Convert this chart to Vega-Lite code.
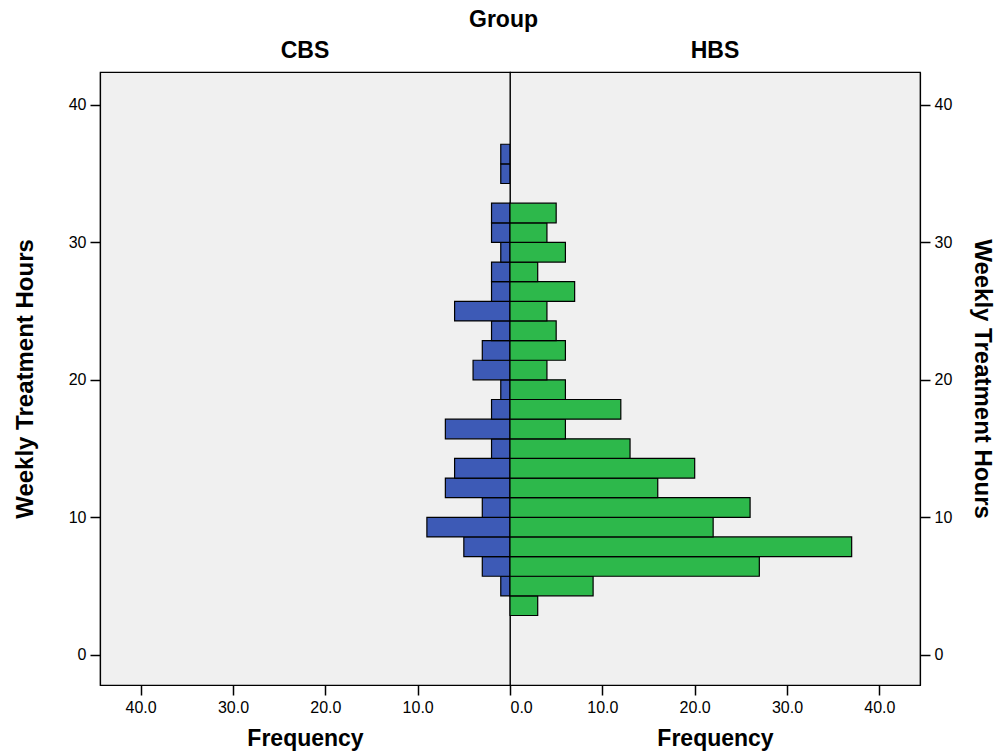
{
  "$schema": "https://vega.github.io/schema/vega-lite/v6.json",
  "padding": {"left": 12, "top": 9, "right": 5, "bottom": 5},
  "background": "white",
  "bounds": "flush",
  "title": {"text": "Group", "anchor": "middle", "fontSize": 23, "font": "Liberation Sans", "fontWeight": "bold", "color": "black", "offset": 7},
  "datasets": {
    "cbs": [
      {"lo": 4.286, "hi": 5.714, "count": 1},
      {"lo": 5.714, "hi": 7.143, "count": 3},
      {"lo": 7.143, "hi": 8.571, "count": 5},
      {"lo": 8.571, "hi": 10.0, "count": 9},
      {"lo": 10.0, "hi": 11.429, "count": 3},
      {"lo": 11.429, "hi": 12.857, "count": 7},
      {"lo": 12.857, "hi": 14.286, "count": 6},
      {"lo": 14.286, "hi": 15.714, "count": 2},
      {"lo": 15.714, "hi": 17.143, "count": 7},
      {"lo": 17.143, "hi": 18.571, "count": 2},
      {"lo": 18.571, "hi": 20.0, "count": 1},
      {"lo": 20.0, "hi": 21.429, "count": 4},
      {"lo": 21.429, "hi": 22.857, "count": 3},
      {"lo": 22.857, "hi": 24.286, "count": 2},
      {"lo": 24.286, "hi": 25.714, "count": 6},
      {"lo": 25.714, "hi": 27.143, "count": 2},
      {"lo": 27.143, "hi": 28.571, "count": 2},
      {"lo": 28.571, "hi": 30.0, "count": 1},
      {"lo": 30.0, "hi": 31.429, "count": 2},
      {"lo": 31.429, "hi": 32.857, "count": 2},
      {"lo": 34.286, "hi": 35.714, "count": 1},
      {"lo": 35.714, "hi": 37.143, "count": 1}
    ],
    "hbs": [
      {"lo": 2.857, "hi": 4.286, "count": 3},
      {"lo": 4.286, "hi": 5.714, "count": 9},
      {"lo": 5.714, "hi": 7.143, "count": 27},
      {"lo": 7.143, "hi": 8.571, "count": 37},
      {"lo": 8.571, "hi": 10.0, "count": 22},
      {"lo": 10.0, "hi": 11.429, "count": 26},
      {"lo": 11.429, "hi": 12.857, "count": 16},
      {"lo": 12.857, "hi": 14.286, "count": 20},
      {"lo": 14.286, "hi": 15.714, "count": 13},
      {"lo": 15.714, "hi": 17.143, "count": 6},
      {"lo": 17.143, "hi": 18.571, "count": 12},
      {"lo": 18.571, "hi": 20.0, "count": 6},
      {"lo": 20.0, "hi": 21.429, "count": 4},
      {"lo": 21.429, "hi": 22.857, "count": 6},
      {"lo": 22.857, "hi": 24.286, "count": 5},
      {"lo": 24.286, "hi": 25.714, "count": 4},
      {"lo": 25.714, "hi": 27.143, "count": 7},
      {"lo": 27.143, "hi": 28.571, "count": 3},
      {"lo": 28.571, "hi": 30.0, "count": 6},
      {"lo": 30.0, "hi": 31.429, "count": 4},
      {"lo": 31.429, "hi": 32.857, "count": 5}
    ]
  },
  "spacing": 0,
  "resolve": {"scale": {"y": "independent", "x": "independent"}, "axis": {"y": "independent"}},
  "hconcat": [
    {
      "width": 410,
      "height": 613,
      "data": {"name": "cbs"},
      "title": {"text": "CBS", "anchor": "middle", "fontSize": 23, "font": "Liberation Sans", "fontWeight": "bold", "color": "black", "offset": 9},
      "mark": {"type": "rect", "color": "#3d5ab6", "stroke": "black", "strokeWidth": 1.2, "opacity": 1},
      "encoding": {
        "x": {"field": "count", "type": "quantitative",
              "scale": {"domain": [0, 44.4], "reverse": true, "nice": false, "zero": false},
              "axis": {"values": [10, 20, 30, 40], "format": ".1f", "title": "Frequency", "titlePadding": 12}},
        "x2": {"datum": 0},
        "y": {"field": "lo", "type": "quantitative",
              "scale": {"domain": [-2.2, 42.4], "nice": false, "zero": false},
              "axis": {"orient": "left", "values": [0, 10, 20, 30, 40], "format": "d", "title": "Weekly Treatment Hours", "titlePadding": 31, "titleAngle": -90, "titleFontSize": 24}},
        "y2": {"field": "hi"}
      }
    },
    {
      "width": 410,
      "height": 613,
      "data": {"name": "hbs"},
      "title": {"text": "HBS", "anchor": "middle", "fontSize": 23, "font": "Liberation Sans", "fontWeight": "bold", "color": "black", "offset": 9},
      "mark": {"type": "rect", "color": "#2db84b", "stroke": "black", "strokeWidth": 1.2, "opacity": 1},
      "encoding": {
        "x": {"field": "count", "type": "quantitative",
              "scale": {"domain": [0, 44.4], "nice": false, "zero": false},
              "axis": {"values": [0, 10, 20, 30, 40], "format": ".1f", "title": "Frequency", "titlePadding": 12}},
        "x2": {"datum": 0},
        "y": {"field": "lo", "type": "quantitative",
              "scale": {"domain": [-2.2, 42.4], "nice": false, "zero": false},
              "axis": {"orient": "right", "values": [0, 10, 20, 30, 40], "format": "d", "title": "Weekly Treatment Hours", "titlePadding": 18, "titleAngle": 90, "titleFontSize": 24}},
        "y2": {"field": "hi"}
      }
    }
  ],
  "config": {
    "view": {"fill": "#f0f0f0", "stroke": "black", "strokeWidth": 1.2},
    "axis": {
      "grid": false,
      "domain": true,
      "domainColor": "black",
      "domainWidth": 1.2,
      "tickColor": "black",
      "tickSize": 10,
      "tickWidth": 1.5,
      "labelPadding": 4,
      "labelFont": "Liberation Sans",
      "labelFontSize": 16,
      "labelColor": "black",
      "titleFont": "Liberation Sans",
      "titleFontSize": 23,
      "titleFontWeight": "bold",
      "titleColor": "black"
    }
  }
}
